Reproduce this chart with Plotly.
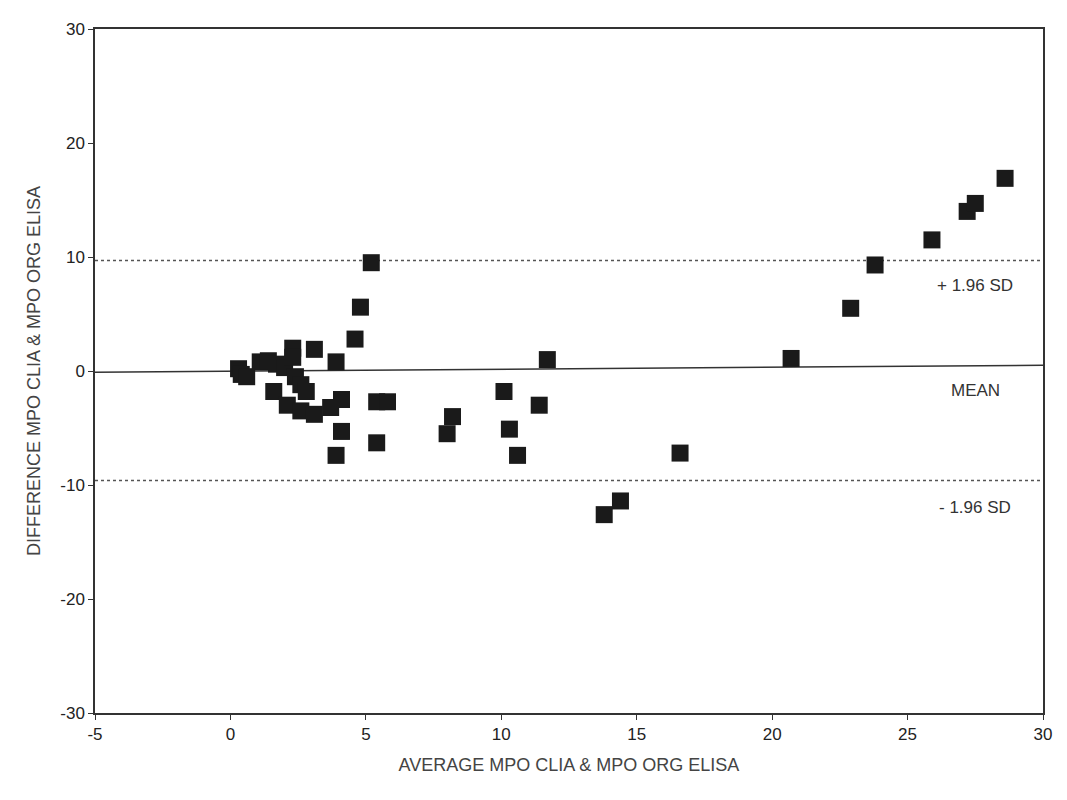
import plotly.graph_objects as go

avg = [0.3, 0.4, 0.6, 1.1, 1.4, 1.7, 2.0, 2.3, 2.3, 2.4, 2.6, 2.8, 1.6, 2.1, 2.6, 3.1, 3.1,
       3.7, 3.9, 4.1, 3.9, 4.1, 4.6, 4.8, 5.2, 5.4, 5.8, 5.4, 8.0, 8.2, 10.1, 10.3, 10.6,
       11.4, 11.7, 13.8, 14.4, 16.6, 20.7, 22.9, 23.8, 25.9, 27.2, 27.5, 28.6]
diff = [0.2, -0.3, -0.5, 0.8, 0.9, 0.6, 0.3, 2.0, 1.2, -0.5, -1.2, -1.8, -1.8, -3.0, -3.5, -3.8, 1.9,
        -3.2, 0.8, -2.5, -7.4, -5.3, 2.8, 5.6, 9.5, -2.7, -2.7, -6.3, -5.5, -4.0, -1.8, -5.1, -7.4,
        -3.0, 1.0, -12.6, -11.4, -7.2, 1.1, 5.5, 9.3, 11.5, 14.0, 14.7, 16.9]
upper_sd = 9.7
lower_sd = -9.6
mean_line_x = [-5, 30]
mean_line_y = [-0.1, 0.5]
x_ticks = [-5, 0, 5, 10, 15, 20, 25, 30]
y_ticks = [-30, -20, -10, 0, 10, 20, 30]

fig = go.Figure()
fig.add_trace(go.Scatter(x=[-5, 30], y=[upper_sd, upper_sd], mode="lines",
                         line=dict(color="#555", width=1.5, dash="dot")))
fig.add_trace(go.Scatter(x=[-5, 30], y=[lower_sd, lower_sd], mode="lines",
                         line=dict(color="#555", width=1.5, dash="dot")))
fig.add_trace(go.Scatter(x=mean_line_x, y=mean_line_y, mode="lines",
                         line=dict(color="#333", width=1.5)))
fig.add_trace(go.Scatter(x=avg, y=diff, mode="markers",
                         marker=dict(symbol="square", size=17, color="#1a1a1a")))

for txt, yy in [("+ 1.96 SD", 7.5), ("MEAN", -1.7), ("- 1.96 SD", -12.0)]:
    fig.add_annotation(x=27.5, y=yy, text=txt, showarrow=False,
                       font=dict(size=17, color="#333"))

axis = dict(showgrid=False, zeroline=False, showline=True, linecolor="#333", linewidth=1.5,
            mirror=True, ticks="outside", ticklen=5, tickcolor="#333",
            tickfont=dict(size=17, color="#222"))
fig.update_xaxes(range=[-5, 30], tickvals=x_ticks, ticktext=[str(v) for v in x_ticks],
                 title=dict(text="AVERAGE MPO CLIA & MPO ORG ELISA",
                            font=dict(size=18, color="#444")), **axis)
fig.update_yaxes(range=[-30, 30], tickvals=y_ticks, ticktext=[str(v) for v in y_ticks],
                 title=dict(text="DIFFERENCE MPO CLIA & MPO ORG ELISA",
                            font=dict(size=18, color="#444")), **axis)
fig.update_layout(width=1067, height=800, showlegend=False, plot_bgcolor="white",
                  paper_bgcolor="white", margin=dict(l=87, r=32, t=18, b=95),
                  font=dict(family="Arial, Liberation Sans"))
fig.write_html("out.html")
